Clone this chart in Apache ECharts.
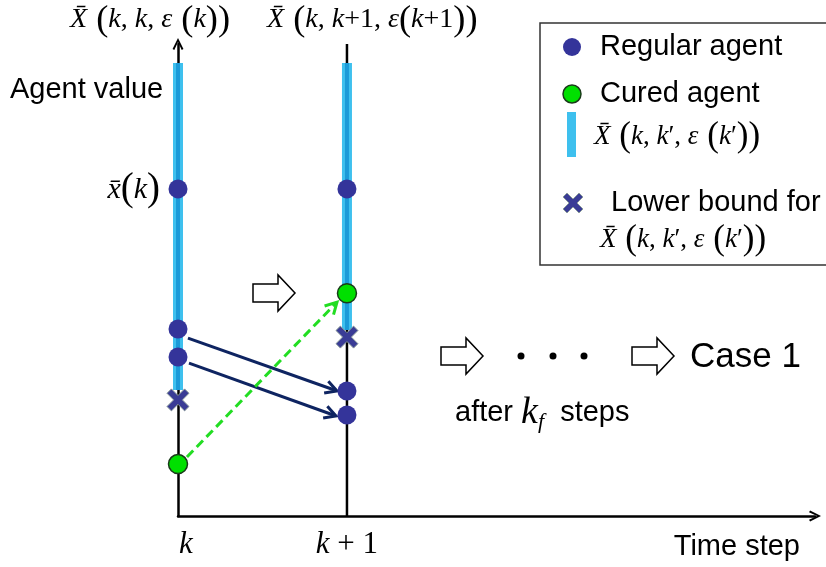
<!DOCTYPE html>
<html><head><meta charset="utf-8">
<script src="https://cdn.jsdelivr.net/npm/echarts@6/dist/echarts.min.js"></script>
<style>html,body{margin:0;padding:0;background:#fff}#c{width:826px;height:567px}</style>
</head><body><div id="c"></div>
<script>
// ---- data (time step index, agent value in arbitrary units) ----
var timeSteps = [0, 1];
var xTickLabels = ['k', 'k + 1'];
var regularAgents = [[0, 69.3], [0, 39.6], [0, 33.7], [1, 69.3], [1, 26.5], [1, 21.4]];
var curedAgents = [[0, 11.0], [1, 47.2]];
var lowerBounds = [[0, 24.6], [1, 37.9]];
var safeRangeK = [[0, 26.7], [0, 96.0]];
var safeRangeK1 = [[1, 39.4], [1, 96.0]];
var timeLineK1 = [[1, 0], [1, 100]];
var moveArrows = [[0.059, 37.7, 0.941, 26.5], [0.065, 32.4, 0.935, 21.2]];
var cureArrows = [[0.053, 12.5, 0.941, 45.3]];

var NAVY = '#34349A', GREEN = '#00E000', SKY = '#3EC0EE', SKYD = '#1B9AD8';
var SERIF = '"Liberation Serif","DejaVu Serif",serif';
var SANS = '"Liberation Sans",Arial,sans-serif';
var crossPath = 'path://M2,0 L5,3 L8,0 L10,2 L7,5 L10,8 L8,10 L5,7 L2,10 L0,8 L3,5 L0,2 Z';
var chevron = 'path://M0,10 L5,0 L10,10 L8.4,11 L5,3.6 L1.6,11 Z';

var mathRich = function (fs) {
  return {
    i: {fontFamily: SERIF, fontStyle: 'italic', fontSize: fs, color: '#000'},
    n: {fontFamily: SERIF, fontSize: fs, color: '#000'},
    p: {fontFamily: SERIF, fontSize: fs * 1.3, color: '#000', fontWeight: 'lighter'}
  };
};
function xbar(args) { return '{i|X\u0304}{p| (}' + args + '{p|)}'; }
var lblKK = xbar('{i|k}{n|, }{i|k}{n|, }{i|ε}{p| (}{i|k}{p|)}');
var lblKK1 = xbar('{i|k}{n|, }{i|k}{n|+1, }{i|ε}{p|(}{i|k}{n|+1}{p|)}');
var lblKp = xbar('{i|k}{n|, }{i|k}{n|′, }{i|ε}{p| (}{i|k}{n|′}{p|)}');

function arrowRender(dashed, color) {
  return function (params, api) {
    var a = api.coord([api.value(0), api.value(1)]);
    var b = api.coord([api.value(2), api.value(3)]);
    var ang = Math.atan2(b[1] - a[1], b[0] - a[0]);
    var L = 13, W = 0.5;
    var h1 = [b[0] - L * Math.cos(ang - W), b[1] - L * Math.sin(ang - W)];
    var h2 = [b[0] - L * Math.cos(ang + W), b[1] - L * Math.sin(ang + W)];
    var st = {stroke: color, lineWidth: 3, fill: null};
    var dst = {stroke: color, lineWidth: 3, fill: null};
    if (dashed) dst.lineDash = [9, 5];
    return {type: 'group', children: [
      {type: 'line', shape: {x1: a[0], y1: a[1], x2: b[0] - 2 * Math.cos(ang), y2: b[1] - 2 * Math.sin(ang)}, style: dst},
      {type: 'polyline', shape: {points: [h1, b, h2]}, style: st}
    ]};
  };
}

function hollowArrow(x, y) {
  return {type: 'polygon', shape: {points: [[x, y - 9], [x + 25, y - 9], [x + 25, y - 18], [x + 42, y], [x + 25, y + 18], [x + 25, y + 9], [x, y + 9]]},
    style: {fill: '#fff', stroke: '#000', lineWidth: 1.5}};
}
function crossShape(cx, cy, s) {
  var p = [[2,0],[5,3],[8,0],[10,2],[7,5],[10,8],[8,10],[5,7],[2,10],[0,8],[3,5],[0,2]];
  return p.map(function (q) { return [cx + (q[0] - 5) * s / 10, cy + (q[1] - 5) * s / 10]; });
}

var chart = echarts.init(document.getElementById('c'), null, {renderer: 'canvas'});
chart.setOption({
  animation: false,
  backgroundColor: '#fff',
  grid: {left: 178, right: 11, top: 44, bottom: 51},
  xAxis: {type: 'value', min: 0, max: 3.77, interval: 1,
    axisLine: {show: true, lineStyle: {color: '#000', width: 2.5}, symbol: ['none', chevron], symbolSize: [12, 12]},
    axisTick: {show: false}, splitLine: {show: false},
    axisLabel: {show: true, margin: 13, showMaxLabel: false,
      formatter: function (v) {
        var i = timeSteps.indexOf(v);
        if (i < 0) return '';
        var t = xTickLabels[i];
        return t === 'k' ? '{k|k}' : '{i|k}{n| + 1}';
      },
      rich: {k: {fontFamily: SERIF, fontStyle: 'italic', fontSize: 31, color: '#000', padding: [0, 0, 0, 16]},
        i: {fontFamily: SERIF, fontStyle: 'italic', fontSize: 31, color: '#000'}, n: {fontFamily: SERIF, fontSize: 31, color: '#000'}}}
  },
  yAxis: {type: 'value', min: 0, max: 100,
    axisLine: {show: true, lineStyle: {color: '#000', width: 2.5}, symbol: ['none', chevron], symbolSize: [12, 12]},
    axisTick: {show: false}, splitLine: {show: false}, axisLabel: {show: false}
  },
  series: [
    {type: 'line', data: timeLineK1, showSymbol: false, lineStyle: {color: '#000', width: 2.5}, z: 2},
    {type: 'line', data: safeRangeK, showSymbol: false, lineStyle: {color: SKY, width: 10, cap: 'butt'}, z: 3},
    {type: 'line', data: safeRangeK, showSymbol: false, lineStyle: {color: SKYD, width: 4, cap: 'butt'}, z: 3},
    {type: 'line', data: safeRangeK1, showSymbol: false, lineStyle: {color: SKY, width: 10, cap: 'butt'}, z: 3},
    {type: 'line', data: safeRangeK1, showSymbol: false, lineStyle: {color: SKYD, width: 4, cap: 'butt'}, z: 3},
    {type: 'custom', data: moveArrows, renderItem: arrowRender(false, '#0E2461'), encode: {x: [0, 2], y: [1, 3]}, z: 4},
    {type: 'custom', data: cureArrows, renderItem: arrowRender(true, '#22DD22'), encode: {x: [0, 2], y: [1, 3]}, z: 4},
    {type: 'scatter', data: regularAgents, symbol: 'circle', symbolSize: 19, itemStyle: {color: NAVY, opacity: 1}, z: 5},
    {type: 'scatter', data: curedAgents, symbol: 'circle', symbolSize: 19, itemStyle: {color: GREEN, borderColor: '#1A3A1A', borderWidth: 1.5, opacity: 1}, z: 5},
    {type: 'scatter', data: lowerBounds, symbol: crossPath, symbolSize: 22, itemStyle: {color: '#3A3C96', borderColor: '#8A9A9A', borderWidth: 1, opacity: 1}, z: 5}
  ],
  graphic: [
    {type: 'text', x: 10, y: 90, style: {text: 'Agent value', font: '29px ' + SANS, fill: '#000', verticalAlign: 'middle'}},
    {type: 'text', x: 70, y: 20, style: {text: lblKK, rich: mathRich(28), verticalAlign: 'middle'}},
    {type: 'text', x: 267, y: 20, style: {text: lblKK1, rich: mathRich(28), verticalAlign: 'middle'}},
    {type: 'text', x: 160, y: 190, style: {text: '{i|x\u0304}{p|(}{i|k}{p|)}', rich: mathRich(30), align: 'right', verticalAlign: 'middle'}},
    {type: 'text', x: 800, y: 547, style: {text: 'Time step', font: '29px ' + SANS, fill: '#000', align: 'right', verticalAlign: 'middle'}},
    {type: 'text', x: 690, y: 357, style: {text: 'Case 1', font: '35px ' + SANS, fill: '#000', verticalAlign: 'middle'}},
    {type: 'text', x: 455, y: 413, style: {text: '{s|after }{i|k}{sub|f}{s|  steps}', verticalAlign: 'middle',
      rich: {s: {font: '29px ' + SANS, fill: '#000'}, i: {fontFamily: SERIF, fontStyle: 'italic', fontSize: 38, color: '#000'},
        sub: {fontFamily: SERIF, fontStyle: 'italic', fontSize: 22, color: '#000', verticalAlign: 'bottom', padding: [18, 0, 0, 0]}}}},
    hollowArrow(253, 293), hollowArrow(441, 356), hollowArrow(632, 356),
    {type: 'circle', shape: {cx: 521, cy: 356, r: 3.5}, style: {fill: '#000'}},
    {type: 'circle', shape: {cx: 553, cy: 356, r: 3.5}, style: {fill: '#000'}},
    {type: 'circle', shape: {cx: 584, cy: 356, r: 3.5}, style: {fill: '#000'}},
    // legend
    {type: 'rect', shape: {x: 540, y: 23, width: 300, height: 242}, style: {fill: '#fff', stroke: '#333', lineWidth: 1.5}, z: 10},
    {type: 'circle', shape: {cx: 572, cy: 47, r: 9}, style: {fill: NAVY}, z: 11},
    {type: 'text', x: 600, y: 47, style: {text: 'Regular agent', font: '29px ' + SANS, fill: '#000', verticalAlign: 'middle'}, z: 11},
    {type: 'circle', shape: {cx: 572, cy: 94, r: 9}, style: {fill: GREEN, stroke: '#1A3A1A', lineWidth: 1.5}, z: 11},
    {type: 'text', x: 600, y: 94, style: {text: 'Cured agent', font: '29px ' + SANS, fill: '#000', verticalAlign: 'middle'}, z: 11},
    {type: 'rect', shape: {x: 567, y: 112, width: 9, height: 45}, style: {fill: SKY}, z: 11},
    {type: 'text', x: 594, y: 137, style: {text: lblKp, rich: mathRich(27), verticalAlign: 'middle'}, z: 11},
    {type: 'polygon', shape: {points: crossShape(573, 203, 20)}, style: {fill: '#3A3C96', stroke: '#8A9A9A', lineWidth: 1}, z: 11},
    {type: 'text', x: 611, y: 203, style: {text: 'Lower bound for', font: '29px ' + SANS, fill: '#000', verticalAlign: 'middle'}, z: 11},
    {type: 'text', x: 600, y: 240, style: {text: lblKp, rich: mathRich(27), verticalAlign: 'middle'}, z: 11}
  ]
});
</script></body></html>
